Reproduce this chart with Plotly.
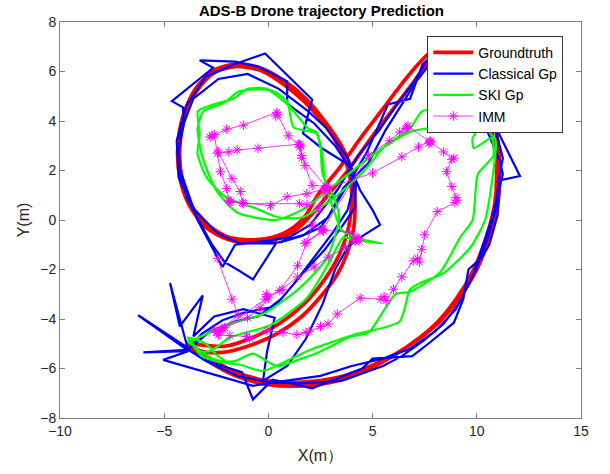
import plotly.graph_objects as go

# ---------------- data ----------------
gt_x = [-3.9, -3.2, -2.2, -1.0, 0.4, 1.6, 2.6, 3.3, 3.8, 4.1, 4.15, 4.0, 3.5, 2.7, 1.8, 0.8, -0.4, -1.6, -2.6, -3.5, -4.1, -4.35, -4.25, -3.8, -3.0, -1.9, -0.7, 0.5, 1.4, 2.1,
        2.9, 3.9, 5.0, 6.0, 6.9, 7.7, 8.6, 9.5, 10.1, 10.6, 11.0, 11.1, 11.0, 10.6, 10.0, 9.2, 8.1, 6.8, 5.2, 3.4, 1.6, 0.0, -1.4, -2.6, -3.5, -3.9,
        -3.2, -2.1, -0.9, 0.5, 1.7, 2.7, 3.4, 3.85, 4.0, 3.85, 3.35, 2.6, 1.7, 0.7, -0.4, -1.6, -2.6, -3.4, -4.0, -4.25, -4.15, -3.7, -2.9, -1.9, -0.7, 0.4, 1.2, 1.8,
        2.4, 3.4, 4.5, 5.5, 6.4, 7.3, 8.3, 9.3, 10.0, 10.4, 10.8, 10.95, 10.85, 10.45, 9.85, 9.0, 7.9, 6.6, 5.0, 3.3, 1.6, 0.0, -1.4, -2.7, -3.6, -3.95]
gt_y = [-4.95, -5.3, -5.35, -5.1, -4.6, -3.9, -3.0, -2.2, -1.3, -0.3, 0.9, 2.0, 3.0, 4.0, 4.9, 5.6, 6.15, 6.3, 6.05, 5.3, 4.2, 2.9, 1.7, 0.6, -0.3, -0.8, -0.9, -0.75, -0.35, 0.25,
        1.05, 2.1, 3.4, 4.5, 5.5, 6.4, 7.0, 6.8, 6.0, 4.7, 3.2, 1.8, 0.6, -0.7, -2.0, -3.1, -4.2, -5.05, -5.8, -6.35, -6.55, -6.5, -6.2, -5.7, -5.2, -4.95,
        -5.05, -5.1, -4.8, -4.2, -3.4, -2.4, -1.4, -0.3, 0.9, 2.0, 3.0, 3.95, 4.8, 5.5, 6.05, 6.2, 5.95, 5.25, 4.2, 2.9, 1.7, 0.6, -0.2, -0.7, -0.8, -0.65, -0.3, 0.2,
        1.05, 2.1, 3.4, 4.5, 5.5, 6.4, 7.1, 7.0, 6.2, 4.8, 3.2, 1.8, 0.6, -0.7, -2.0, -3.2, -4.3, -5.15, -5.95, -6.5, -6.7, -6.65, -6.35, -5.8, -5.25, -5.0]

gp_x = [-3.85, -3.2, -2.2, -1.2, 0.3, 1.2, 2.2, 3.1, 3.8, 4.1, 3.9,
        3.2, 2.2, 0.9, 0.9, -0.5, -1.6, -3.3, -2.65, -3.6, -4.63, -4.1, -4.05, -4.3, -4.25, -3.9, -3.4, -2.7, -2.1, -1.4, -0.74, 0.4, -0.74, 0.6, 1.6, 2.5, 3.0,
        3.9, 4.7, 5.74, 6.8, 7.4, 8.5, 9.8, 10.6, 12.07, 11.1, 11.0, 10.6, 10.25, 9.6, 9.35, 8.9, 7.75, 6.9, 5.0, 4.5, 2.1, 0.2, -0.74, -1.27, -2.6, -3.85,
        -4.72, -4.25, -3.15, -3.6, -2.6, -1.2, 0.3, -0.06, -0.26, 0.9, 1.8, 2.6, 3.2, 3.8, 4.6, 5.36, 5.0, 4.4, 3.9, 2.57, 1.66, 2.1, -0.16, -1.6, -3.0, -3.95, -4.4, -4.3, -3.6, -2.5, -1.4, 0.3, 1.7, 2.86,
        3.6, 4.8, 5.6, 7.1, 8.3, 9.7, 10.25, 11.1, 11.25, 11.0, 10.7, 10.3, 9.8, 9.0, 8.0, 6.8, 5.5, 4.0, 2.5, 0.8, -0.74, -5.05, -3.85, -6.0, -3.9, -6.25, -3.8,
        -2.8, -1.6, -0.5, 0.6, 1.6, 2.7, 3.5, 4.15, 4.2, 3.8, 2.8, 1.9, 0.5, -1.0, -2.4, -3.6, -4.2, -4.35, -3.4, -2.2, -1.6, -0.6, 1.0, 2.0, 3.3, 4.3, 5.3, 6.2, 7.0, 8.0, 10.0, 10.6, 11.25, 11.05, 10.9, 10.5, 9.9, 9.2, 8.4, 7.4, 6.4, 5.5, 3.5, 1.5, 0.0, -1.5, -3.0, -4.2]
gp_y = [-5.25, -4.6, -4.05, -3.75, -3.5, -2.6, -1.5, -0.5, 0.4, 1.4, 2.1,
        3.0, 3.9, 4.7, 5.6, 6.2, 6.4, 6.45, 6.15, 5.5, 4.8, 4.55, 3.9, 2.9, 1.9, 0.9, 0.06, -1.0, -1.7, -2.05, -2.4, -0.9, -0.95, -0.9, -0.65, -0.3, 0.3,
        1.6, 2.7, 4.67, 4.9, 6.3, 7.1, 6.6, 4.27, 1.78, 1.6, 0.2, -1.0, -1.5, -2.0, -3.2, -4.15, -4.95, -5.5, -5.6, -6.0, -6.8, -6.45, -7.25, -6.15, -5.8, -5.25,
        -2.55, -4.3, -3.05, -4.7, -3.9, -3.6, -3.95, -5.3, -6.5, -5.9, -4.8, -3.4, -2.0, -1.1, -0.6, -0.2, 0.4, 1.2, 2.2, 2.9, 3.5, 4.87, 6.73, 6.3, 5.8, 4.6, 3.2, 1.7, 0.46, -0.5, -0.95, -0.95, -0.6, 0.1,
        1.3, 2.3, 3.6, 5.6, 6.9, 5.9, 4.1, 2.4, 1.85, 1.0, 0.0, -1.0, -2.3, -3.6, -4.5, -5.2, -5.6, -5.9, -6.3, -6.5, -6.7, -5.65, -5.3, -5.35, -5.25, -3.85, -5.2,
        -4.5, -4.1, -3.9, -3.2, -2.2, -1.2, -0.3, 0.5, 1.6, 2.5, 3.7, 4.4, 5.3, 5.9, 5.7, 4.9, 3.6, 2.3, 0.0, -1.9, -1.0, -0.9, -0.7, -0.2, 1.2, 2.6, 3.6, 4.7, 5.6, 7.0, 6.4, 4.6, 2.5, 1.6, 0.4, -0.8, -2.1, -3.3, -4.2, -4.9, -5.5, -5.9, -6.5, -6.6, -6.55, -6.3, -5.7, -5.05]

ski_x = [-3.76, -2.95, -1.85, -0.26, 1.5, 2.8, 3.4, 3.2, 2.6, 2.5, 2.3, 1.2, 0.9, 0.1, -1.4, -2.1, -3.1, -3.4, -3.15, -2.5, -1.5, 0.4, 1.8, 3.0, 4.5, 6.0, 6.95, 8.5, 10.0, 10.05, 9.8, 9.85, 10.7, 10.8, 10.05, 9.8, 9.2, 8.25, 6.8, 6.1, 4.8, 4.0, 2.4, 1.6, 0.4, -0.74, -1.6, -2.5, -3.2, -3.86,
         -3.3, -2.8, -1.85, 0.08, 1.85, 2.96, 3.6, 4.15, 5.45, 4.3, 3.5, 3.3, 2.7, 2.6, 2.3, 1.9, 1.0, -0.1, -1.0, -1.7, -2.66, -3.38, -3.3, -3.4, -2.95, -2.0, -0.7, 0.5, 1.6, 3.0, 4.5, 5.6, 6.8, 7.4, 9.0, 10.4, 10.9, 10.8, 10.4, 9.7, 8.4, 7.4, 6.8, 6.3, 4.06, 1.85, -0.26, -1.36, -2.3, -3.14, -3.86,
         -3.0, -2.5, -2.0, -2.7, -3.4, -3.9]
ski_y = [-4.9, -4.6, -4.2, -3.8, -2.75, -1.55, 0.06, 0.8, 1.85, 2.9, 3.5, 3.75, 4.8, 5.25, 5.2, 4.75, 4.4, 3.7, 2.5, 1.2, 0.3, 0.0, 0.5, 1.3, 2.3, 3.2, 3.6, 3.8, 4.0, 3.7, 3.3, 2.9, 3.3, 2.6, 1.85, 0.0, -0.7, -2.1, -2.9, -3.0, -4.55, -4.7, -5.35, -5.6, -5.9, -5.4, -5.7, -5.7, -5.5, -4.75,
         -5.3, -5.3, -4.75, -4.25, -3.15, -1.65, -0.7, -0.8, -0.95, -0.75, -0.4, 0.0, 1.6, 2.6, 3.55, 3.7, 4.6, 5.3, 5.3, 4.9, 4.67, 4.4, 3.47, 2.67, 1.7, 0.9, 0.5, 0.1, 0.1, 0.8, 1.9, 3.0, 3.7, 4.4, 4.35, 3.7, 3.2, 2.0, 0.0, -1.1, -2.15, -2.5, -2.8, -4.1, -4.65, -5.3, -6.1, -5.85, -5.75, -5.5, -4.75,
         -5.0, -5.45, -5.75, -5.6, -5.2, -4.9]

imm_x = [-2.45, -1.75, -1.45, -2.3, -2.5, -2.6, -2.4, -1.85, -1.05, -0.9, -0.06, 0.7, 1.37, 1.8, 1.95, 2.5, 2.86, 3.3, 4.4, 5.4, 5.55, 5.65, 6.0, 6.4, 6.95, 7.15, 7.25, 7.35, 7.5, 8.1,
         8.95, 9.05, 9.0, 8.8, 8.55, 8.8, 8.9, 8.4, 7.8, 7.7, 7.75, 7.2, 6.4, 5.0, 2.9, 2.75, 2.8, 2.1, 1.75, 1.6, 1.5, 1.45, 0.95, 0.45, 0.35, 0.4, -1.2, -2.0, -2.7, -2.8, -2.6,
         -2.3, -2.0, -1.9, -1.85, -1.8, 0.1, 0.9, 1.85, 2.7, 2.75, 1.85, 1.5, -1.2, -1.25, -1.35, -1.75, -2.4, -2.45, -1.9, -1.5, -0.5, 1.5, 1.55, 1.6, 2.8, 2.4, 2.1, 1.85, 1.4, 0.55,
         -0.06, -0.1, 0.0, -0.4, -1.0, -2.2, -2.1, -0.16, 0.65, 1.4, 2.2, 2.87, 3.7, 4.2, 4.3, 4.15, 4.25, 4.35, 3.9, 2.6, 2.55, 2.65, 1.75, 2.6, 4.8, 5.8, 6.3, 6.65, 6.6, 6.7, 7.75]
imm_y = [-1.55, -3.2, -3.85, -4.45, -4.55, -4.45, -4.65, -4.67, -4.7, -4.8, -4.47, -4.55, -4.63, -4.55, -4.5, -4.3, -4.2, -3.8, -3.15, -3.2, -3.1, -3.25, -2.8, -2.3, -1.65, -1.55, -1.7, -1.2, -0.6, 0.34,
         0.7, 0.8, 0.9, 1.35, 1.95, 2.45, 2.5, 2.75, 3.15, 3.1, 3.2, 2.95, 2.55, 1.9, 1.3, 1.25, 1.35, 1.4, 2.2, 2.6, 2.95, 3.05, 3.4, 4.25, 4.2, 4.35, 3.83, 3.67, 3.4, 3.35, 3.45,
         1.95, 1.27, 0.8, 0.7, 0.75, 0.58, 0.94, 1.06, 1.27, 1.2, 0.62, 0.66, 0.66, 0.7, 1.15, 1.67, 2.75, 2.7, 2.75, 2.83, 2.9, 3.07, 3.0, 2.5, 1.3, 0.45, -0.2, -0.9, -1.85, -2.85,
         -3.1, -3.0, -3.15, -3.55, -3.95, -4.4, -4.35, -3.2, -2.8, -2.3, -1.9, -1.5, -1.1, -0.8, -0.75, -0.85, -0.7, -0.85, -0.5, -0.4, -0.35, -0.45, -0.94, -0.4, 2.6, 3.2, 3.55, 3.75, 3.7, 3.8, 3.15]

x_ticks = [-10, -5, 0, 5, 10, 15]
y_ticks = [-8, -6, -4, -2, 0, 2, 4, 6, 8]

# ---------------- figure ----------------
fig = go.Figure()
fig.add_trace(go.Scatter(x=gt_x, y=gt_y, mode="lines", name="Groundtruth",
                         line=dict(color="#FF0000", width=3.7, shape="spline", smoothing=0.8)))
fig.add_trace(go.Scatter(x=gp_x, y=gp_y, mode="lines", name="Classical Gp",
                         line=dict(color="#0000FF", width=2.2)))
fig.add_trace(go.Scatter(x=ski_x, y=ski_y, mode="lines", name="SKI Gp",
                         line=dict(color="#00FF00", width=2.2, shape="spline", smoothing=0.6)))
fig.add_trace(go.Scatter(x=imm_x, y=imm_y, mode="lines+markers", name="IMM",
                         line=dict(color="#FF00FF", width=0.8),
                         marker=dict(symbol="asterisk-open", size=8, color="#FF00FF",
                                     line=dict(color="#FF00FF", width=1))))

axis_common = dict(showgrid=False, zeroline=False, showline=True, linecolor="#7f7f7f",
                   linewidth=1, mirror="ticks", ticks="inside", ticklen=5,
                   tickcolor="#7f7f7f", tickfont=dict(family="Liberation Sans, Arial", size=14, color="#262626"))

fig.update_layout(
    width=610, height=474,
    margin=dict(l=60, r=29, t=22, b=53),
    paper_bgcolor="white", plot_bgcolor="white",
    title=dict(text="<b>ADS-B Drone trajectory Prediction</b>", x=0.527, xanchor="center",
               y=0.977, yanchor="middle",
               font=dict(family="Liberation Sans, Arial", size=15, color="black")),
    xaxis=dict(range=[-10, 15], tickvals=x_ticks, title=dict(text="X(m）", standoff=12,
               font=dict(family="Liberation Sans, Arial", size=16, color="#262626")), **axis_common),
    yaxis=dict(range=[-8, 8], tickvals=y_ticks, title=dict(text="Y(m)", standoff=6,
               font=dict(family="Liberation Sans, Arial", size=16, color="#262626")), **axis_common),
    legend=dict(x=0.705, y=0.965, xanchor="left", yanchor="top",
                bgcolor="white", bordercolor="#333333", borderwidth=1,
                font=dict(family="Liberation Sans, Arial", size=14, color="black"),
                tracegroupgap=0, itemwidth=40),
    showlegend=True,
)

fig.write_html("out.html", config={"displayModeBar": False},
               post_script="document.body.style.margin='0px';")
